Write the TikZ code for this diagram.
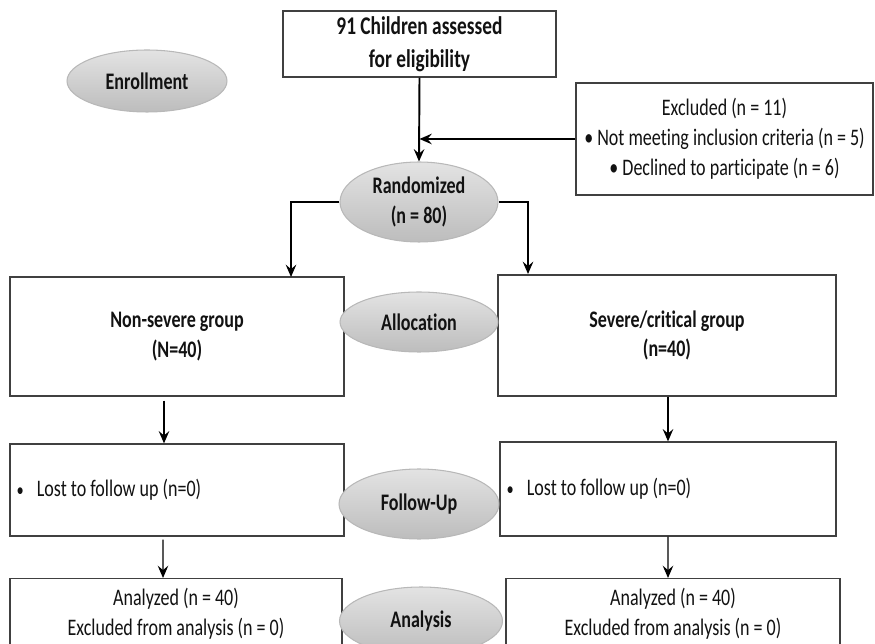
\documentclass[tikz,border=0pt]{standalone}
\usepackage{fontspec}
\setmainfont[FakeStretch=0.76,Ligatures=NoCommon]{Carlito}
\usetikzlibrary{arrows.meta,positioning,shapes.geometric}

\tikzset{
  box/.style={draw=black!75, line width=0.7pt, fill=white, align=center, inner sep=0pt},
  stage/.style={ellipse, draw=black!28, line width=0.6pt, top color=black!11, bottom color=black!26, font=\fontsize{13.5}{17}\selectfont\bfseries, inner sep=0pt},
  link/.style={-{Stealth[length=7pt,width=6pt,inset=2.5pt]}, line width=0.8pt}
}

\begin{document}
\begin{tikzpicture}[x=0.02cm, y=-0.02cm, font=\fontsize{13.5}{17}\selectfont, text=black!93]
    \clip (0,0) rectangle (875,644);

    % Boxes
    \node[box, minimum width=5.46cm, minimum height=1.32cm, font=\fontsize{14.5}{17}\selectfont\bfseries] (screen) at (419.5,44) {91 Children assessed\\[1.5pt]for eligibility};
    \node[box, minimum width=5.94cm, minimum height=2.24cm] (excl) at (724.5,139) {Excluded (n = 11)\\\textbullet{} Not meeting inclusion criteria (n = 5)\\\textbullet{} Declined to participate (n = 6)};
    \node[box, minimum width=6.68cm, minimum height=2.38cm, font=\fontsize{13.5}{17}\selectfont\bfseries] (nonsevere) at (177,336.5) {Non-severe group\\(N=40)};
    \node[box, minimum width=6.76cm, minimum height=2.42cm, font=\fontsize{13.5}{17}\selectfont\bfseries] (severe) at (667,335.5) {Severe/critical group\\(n=40)};
    \node[box, minimum width=6.68cm, minimum height=1.84cm, align=flush left, text width=6.42cm] (lostL) at (177,490) {\scalebox{0.8}{\textbullet}\hspace{7.5pt}Lost to follow up (n=0)};
    \node[box, minimum width=6.72cm, minimum height=1.88cm, align=flush left, text width=6.46cm] (lostR) at (668,489) {\scalebox{0.8}{\textbullet}\hspace{7.5pt}Lost to follow up (n=0)};
    \node[box, anchor=north, minimum width=6.64cm, inner ysep=0.2cm] (analL) at (176,578) {Analyzed (n = 40)\\Excluded from analysis (n = 0)\rule[-40pt]{0pt}{0pt}};
    \node[box, anchor=north, minimum width=6.68cm, inner ysep=0.2cm] (analR) at (673,578) {Analyzed (n = 40)\\Excluded from analysis (n = 0)\rule[-40pt]{0pt}{0pt}};

    % Stages
    \node[stage, minimum width=3.2cm, minimum height=1.24cm] (enroll) at (147,81) {Enrollment};
    \node[stage, minimum width=3.16cm, minimum height=1.6cm, align=center] (random) at (419,202) {Randomized\\(n = 80)};
    \node[stage, minimum width=3.16cm, minimum height=1.2cm] (alloc) at (419,322) {Allocation};
    \node[stage, minimum width=3.2cm, minimum height=1.4cm] (follow) at (419,504) {Follow-Up};
    \node[stage, minimum width=3.26cm, minimum height=1.36cm] (analysis) at (421,621) {Analysis};

    % Connectors
    \coordinate (leftdrop) at (291,277);
    \coordinate (rightdrop) at (528,274);
    \draw[link, line width=1.1pt] (screen.south) -- (random.north);
    \draw[link, line width=1.6pt] (excl.west) -- (excl.west -| screen.south);
    \draw[link, line width=1.4pt] (random.west) -| (leftdrop);
    \draw[link, line width=1.4pt] (random.east) -| (rightdrop);
    \draw[link] ([xshift=-0.26cm,yshift=-0.08cm]nonsevere.south) -- ([xshift=-0.26cm]lostL.north);
    \draw[link] ([xshift=0.02cm]severe.south) -- (lostR.north);
    \draw[link] ([xshift=-0.28cm,yshift=-0.06cm]lostL.south) -- ([xshift=-0.26cm]analL.north);
    \draw[link] (lostR.south) -- ([xshift=-0.1cm]analR.north);
\end{tikzpicture}
\end{document}
